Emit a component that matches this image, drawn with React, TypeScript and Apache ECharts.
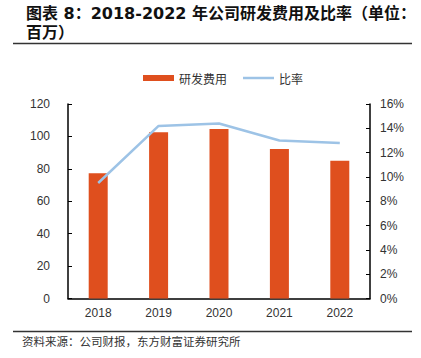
import React, { useEffect, useRef } from "react";
import * as echarts from "echarts";

const categories = ["2018", "2019", "2020", "2021", "2022"];
const rdExpense = [77.2, 102.6, 104.5, 92.2, 85.0];
const ratio = [9.5, 14.2, 14.4, 13.0, 12.8];
const leftTicks = [0, 20, 40, 60, 80, 100, 120];
const rightTicks = [0, 2, 4, 6, 8, 10, 12, 14, 16];

const titleLine1 = "图表 8：2018-2022 年公司研发费用及比率（单位：";
const titleLine2 = "百万）";
const sourceText = "资料来源：公司财报，东方财富证券研究所";

export default function App() {
  const ref = useRef<HTMLDivElement>(null);
  useEffect(() => {
    if (!ref.current) return;
    const chart = echarts.init(ref.current, undefined, { renderer: "svg" });
    const font = "'Noto Sans CJK SC', 'Liberation Sans', sans-serif";
    const titleFont = "'DejaVu Sans', 'Noto Sans CJK SC', sans-serif";
    const latin = "'Liberation Sans', sans-serif";
    chart.setOption({
      animation: false,
      textStyle: { fontFamily: font },
      legend: {
        top: 67,
        left: 138,
        itemGap: 16,
        itemHeight: 6,
        itemWidth: 31,
        textStyle: { fontSize: 12, color: "#333", fontFamily: font },
        data: [
          { name: "研发费用", icon: "rect" },
          { name: "比率", icon: "path://M0 0 H100 V8 H0 Z" },
        ],
      },
      grid: { left: 68, right: 51, top: 104, bottom: 59.5 },
      xAxis: {
        type: "category",
        data: categories,
        axisLine: { lineStyle: { color: "#000", width: 1.5 } },
        axisTick: { show: false },
        axisLabel: { color: "#333", fontSize: 12, margin: 8, fontFamily: latin },
      },
      yAxis: [
        {
          type: "value",
          min: leftTicks[0],
          max: leftTicks[leftTicks.length - 1],
          interval: 20,
          axisLine: { show: true, lineStyle: { color: "#000", width: 1.5 } },
          axisTick: { show: true, inside: true, length: 4, lineStyle: { color: "#000" } },
          axisLabel: { color: "#333", fontSize: 12, margin: 18, fontFamily: latin },
          splitLine: { show: false },
        },
        {
          type: "value",
          min: rightTicks[0],
          max: rightTicks[rightTicks.length - 1],
          interval: 2,
          axisLine: { show: true, lineStyle: { color: "#000", width: 1.5 } },
          axisTick: { show: true, inside: true, length: 4, lineStyle: { color: "#000" } },
          axisLabel: { color: "#333", fontSize: 12, margin: 10, formatter: "{value}%", fontFamily: latin },
          splitLine: { show: false },
        },
      ],
      series: [
        {
          name: "研发费用",
          type: "bar",
          data: rdExpense,
          barWidth: 19,
          itemStyle: { color: "#DF4F1E" },
        },
        {
          name: "比率",
          type: "line",
          yAxisIndex: 1,
          data: ratio,
          showSymbol: false,
          symbol: "none",
          lineStyle: { color: "#9DC3E6", width: 2.5 },
          itemStyle: { color: "#9DC3E6" },
        },
      ],
      graphic: [
        {
          type: "text",
          left: 26,
          top: 5,
          style: { text: titleLine1, fontSize: 16, fontWeight: "bold", fill: "#111", fontFamily: titleFont },
        },
        {
          type: "text",
          left: 26,
          top: 24.5,
          style: { text: titleLine2, fontSize: 16, fontWeight: "bold", fill: "#111", fontFamily: titleFont },
        },
        {
          type: "line",
          shape: { x1: 13, y1: 43.5, x2: 412, y2: 43.5 },
          style: { stroke: "#333", lineWidth: 1.5 },
        },
        {
          type: "line",
          shape: { x1: 13, y1: 331.5, x2: 412, y2: 331.5 },
          style: { stroke: "#333", lineWidth: 1.5 },
        },
        {
          type: "text",
          left: 22,
          top: 335,
          style: { text: sourceText, fontSize: 11.5, fill: "#333", fontFamily: font },
        },
      ],
    });
    return () => chart.dispose();
  }, []);
  return (
    <div
      ref={ref}
      style={{ position: "fixed", left: 0, top: 0, width: 421, height: 358, background: "#fff" }}
    />
  );
}
